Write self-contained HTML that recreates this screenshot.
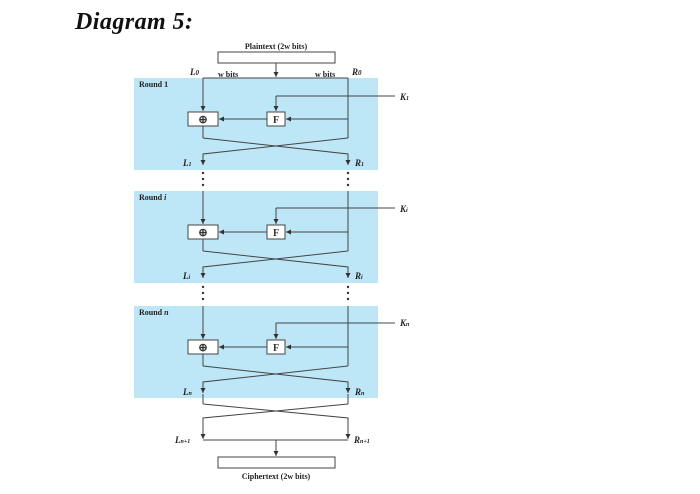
<!DOCTYPE html>
<html><head><style>
body{margin:0;background:#fff;width:700px;height:494px;overflow:hidden}
svg{position:absolute;left:0;top:0}
.t{font-family:"Liberation Serif",serif;font-weight:bold;font-size:8px;fill:#222}
.l{font-family:"Liberation Serif",serif;font-weight:bold;font-style:italic;font-size:9px;fill:#222}
</style></head><body>
<svg width="700" height="494" viewBox="0 0 700 494">
<text x="75" y="29" font-family="Liberation Serif,serif" font-weight="bold" font-style="italic" font-size="24" fill="#111" textLength="118">Diagram 5:</text>
<defs><marker id="a" markerWidth="6" markerHeight="6" refX="5" refY="3" orient="auto"><path d="M0,0.5L5,3L0,5.5z" fill="#333"/></marker></defs>
<g stroke="#444" stroke-width="1" fill="none">
<rect x="218" y="52" width="117" height="11" fill="#fff"/>
<line x1="276" y1="63" x2="276" y2="77" marker-end="url(#a)"/>
</g>
<text class="t" x="276" y="49" text-anchor="middle">Plaintext (2w bits)</text>
<g fill="#bde6f7">
<rect x="134" y="78" width="244" height="92"/>
<rect x="134" y="191" width="244" height="92"/>
<rect x="134" y="306" width="244" height="92"/>
</g>
<g stroke="#444" stroke-width="1" fill="none">
<line x1="203" y1="78" x2="348" y2="78"/>
<line x1="203" y1="78" x2="203" y2="111" marker-end="url(#a)"/>
<line x1="348" y1="78" x2="348" y2="138"/>
<line x1="395" y1="96" x2="276" y2="96"/><line x1="276" y1="96" x2="276" y2="111" marker-end="url(#a)"/>
<line x1="348" y1="119" x2="286" y2="119" marker-end="url(#a)"/>
<line x1="267" y1="119" x2="219" y2="119" marker-end="url(#a)"/>
<rect x="188" y="112" width="30" height="14" fill="#fff"/><rect x="267" y="112" width="18" height="14" fill="#fff"/>
<line x1="203" y1="126" x2="203" y2="138"/>
<path d="M203,138 L348,154 L348,165" marker-end="url(#a)"/>
<path d="M348,138 L203,154 L203,165" marker-end="url(#a)"/>
<line x1="203" y1="191" x2="203" y2="224" marker-end="url(#a)"/>
<line x1="348" y1="191" x2="348" y2="251"/>
<line x1="395" y1="208" x2="276" y2="208"/><line x1="276" y1="208" x2="276" y2="224" marker-end="url(#a)"/>
<line x1="348" y1="232" x2="286" y2="232" marker-end="url(#a)"/>
<line x1="267" y1="232" x2="219" y2="232" marker-end="url(#a)"/>
<rect x="188" y="225" width="30" height="14" fill="#fff"/><rect x="267" y="225" width="18" height="14" fill="#fff"/>
<line x1="203" y1="239" x2="203" y2="251"/>
<path d="M203,251 L348,267 L348,278" marker-end="url(#a)"/>
<path d="M348,251 L203,267 L203,278" marker-end="url(#a)"/>
<line x1="203" y1="306" x2="203" y2="339" marker-end="url(#a)"/>
<line x1="348" y1="306" x2="348" y2="366"/>
<line x1="395" y1="323" x2="276" y2="323"/><line x1="276" y1="323" x2="276" y2="339" marker-end="url(#a)"/>
<line x1="348" y1="347" x2="286" y2="347" marker-end="url(#a)"/>
<line x1="267" y1="347" x2="219" y2="347" marker-end="url(#a)"/>
<rect x="188" y="340" width="30" height="14" fill="#fff"/><rect x="267" y="340" width="18" height="14" fill="#fff"/>
<line x1="203" y1="354" x2="203" y2="366"/>
<path d="M203,366 L348,382 L348,393" marker-end="url(#a)"/>
<path d="M348,366 L203,382 L203,393" marker-end="url(#a)"/>
<line x1="203" y1="394" x2="203" y2="404"/><line x1="348" y1="394" x2="348" y2="404"/>
<path d="M203,404 L348,418 L348,439" marker-end="url(#a)"/>
<path d="M348,404 L203,418 L203,439" marker-end="url(#a)"/>
<line x1="203" y1="440" x2="348" y2="440"/>
<line x1="276" y1="440" x2="276" y2="456" marker-end="url(#a)"/>
<rect x="218" y="457" width="117" height="11" fill="#fff"/>
</g>
<g fill="#333">
<circle cx="203" cy="173" r="1.2"/><circle cx="203" cy="179" r="1.2"/><circle cx="203" cy="185" r="1.2"/>
<circle cx="348" cy="173" r="1.2"/><circle cx="348" cy="179" r="1.2"/><circle cx="348" cy="185" r="1.2"/>
<circle cx="203" cy="287" r="1.2"/><circle cx="203" cy="293" r="1.2"/><circle cx="203" cy="299" r="1.2"/>
<circle cx="348" cy="287" r="1.2"/><circle cx="348" cy="293" r="1.2"/><circle cx="348" cy="299" r="1.2"/>
</g>
<g font-family="Liberation Serif,serif" font-weight="bold" text-anchor="middle" fill="#333">
<text x="203" y="123" font-size="11">⊕</text><text x="276" y="123" font-size="10">F</text>
<text x="203" y="236" font-size="11">⊕</text><text x="276" y="236" font-size="10">F</text>
<text x="203" y="351" font-size="11">⊕</text><text x="276" y="351" font-size="10">F</text>
</g>
<text class="t" x="139" y="87">Round 1</text>
<text class="t" x="139" y="200">Round <tspan font-style="italic">i</tspan></text>
<text class="t" x="139" y="315">Round <tspan font-style="italic">n</tspan></text>
<text class="t" x="218" y="77" font-size="6">w bits</text>
<text class="t" x="315" y="77" font-size="6">w bits</text>
<text class="l" x="190" y="75">L<tspan font-size="7">0</tspan></text>
<text class="l" x="352" y="75">R<tspan font-size="7">0</tspan></text>
<text class="l" x="400" y="100">K<tspan font-size="6">1</tspan></text>
<text class="l" x="400" y="212">K<tspan font-size="6">i</tspan></text>
<text class="l" x="400" y="326">K<tspan font-size="6">n</tspan></text>
<text class="l" x="183" y="166">L<tspan font-size="6">1</tspan></text>
<text class="l" x="355" y="166">R<tspan font-size="6">1</tspan></text>
<text class="l" x="183" y="279">L<tspan font-size="6">i</tspan></text>
<text class="l" x="355" y="279">R<tspan font-size="6">i</tspan></text>
<text class="l" x="183" y="395">L<tspan font-size="6">n</tspan></text>
<text class="l" x="355" y="395">R<tspan font-size="6">n</tspan></text>
<text class="l" x="175" y="443">L<tspan font-size="6">n+1</tspan></text>
<text class="l" x="354" y="443">R<tspan font-size="6">n+1</tspan></text>
<text class="t" x="276" y="479" text-anchor="middle">Ciphertext (2w bits)</text>
</svg>
</body></html>
